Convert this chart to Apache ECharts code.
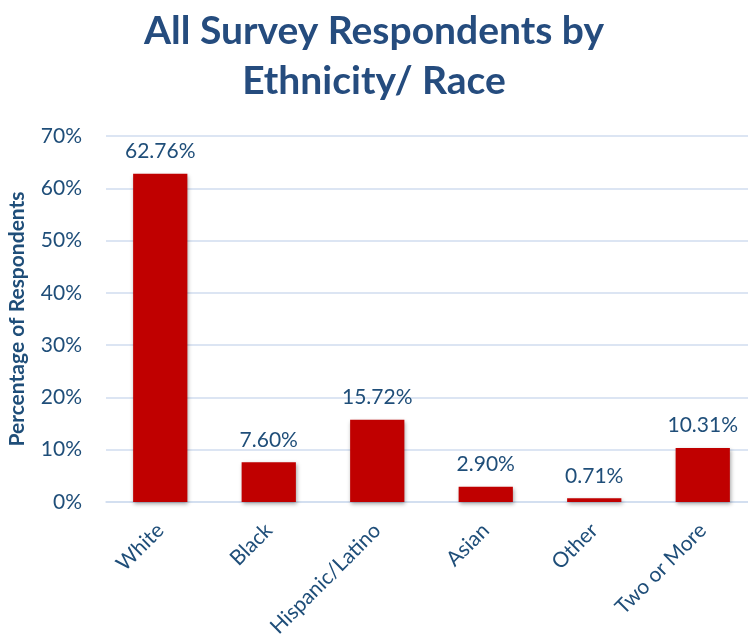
<!DOCTYPE html>
<html>
<head>
<meta charset="utf-8">
<script src="https://cdn.jsdelivr.net/npm/echarts@6/dist/echarts.min.js"></script>
<style>
  html, body { margin: 0; padding: 0; background: #ffffff; }
  #chart { width: 748px; height: 642px; }
</style>
</head>
<body>
<div id="chart"></div>
<script>
// Survey respondents broken down by ethnicity / race (percent of all respondents)
var categories = ['White', 'Black', 'Hispanic/Latino', 'Asian', 'Other', 'Two or More'];
var percentages = [62.76, 7.60, 15.72, 2.90, 0.71, 10.31];
var yTicks = [0, 10, 20, 30, 40, 50, 60, 70];

var navy = '#1F4E79';
var fontFamily = 'Lato, "Open Sans", sans-serif';

var chart = echarts.init(document.getElementById('chart'));
chart.setOption({
  animation: false,
  title: {
    text: 'All Survey Respondents by\nEthnicity/ Race',
    left: 'center',
    top: 1,
    textStyle: {
      fontFamily: fontFamily,
      fontSize: 39,
      fontWeight: 'bold',
      color: '#254C7E',
      lineHeight: 50
    }
  },
  grid: {
    left: 106,
    top: 136,
    width: 651,
    height: 366,
    containLabel: false,
    outerBoundsMode: 'none'
  },
  xAxis: {
    type: 'category',
    data: categories,
    axisLine: { show: true, lineStyle: { color: '#D0DDEF', width: 1.5 } },
    axisTick: { show: false },
    axisLabel: {
      rotate: 45,
      margin: 25,
      interval: 0,
      color: navy,
      fontFamily: fontFamily,
      fontSize: 21
    }
  },
  yAxis: {
    type: 'value',
    min: yTicks[0],
    max: yTicks[yTicks.length - 1],
    interval: 10,
    name: 'Percentage of Respondents',
    nameLocation: 'middle',
    nameGap: 78,
    nameTextStyle: {
      color: navy,
      fontFamily: fontFamily,
      fontSize: 21,
      fontWeight: 'bold'
    },
    axisLine: { show: false },
    axisTick: { show: false },
    axisLabel: {
      formatter: '{value}%',
      color: navy,
      fontFamily: fontFamily,
      fontSize: 21,
      margin: 24
    },
    splitLine: { lineStyle: { color: '#D0DDEF', width: 1.5 } }
  },
  series: [{
    type: 'bar',
    data: percentages,
    barWidth: '50%',
    itemStyle: {
      color: '#C00000',
      shadowColor: 'rgba(0,0,0,0.35)',
      shadowBlur: 4,
      shadowOffsetX: 1,
      shadowOffsetY: 2
    },
    label: {
      show: true,
      position: 'top',
      distance: 12,
      formatter: function (p) { return p.value.toFixed(2) + '%'; },
      color: navy,
      fontFamily: fontFamily,
      fontSize: 21
    }
  }]
});
</script>
</body>
</html>
